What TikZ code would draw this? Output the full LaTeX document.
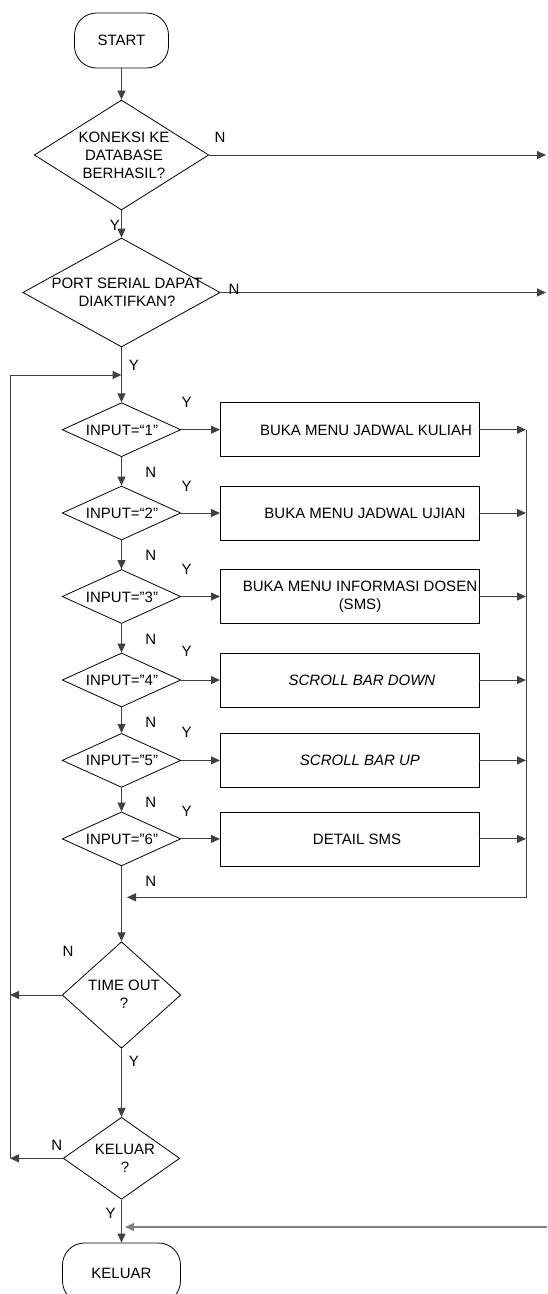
\documentclass[tikz,border=0pt]{standalone}
\usepackage{fontspec}
\setmainfont{Liberation Sans}
\usepackage{tikz}
\usetikzlibrary{arrows.meta,shapes.geometric}
\colorlet{linegray}{black!75}
\colorlet{backgray}{black!50}

\begin{document}
\begin{tikzpicture}[x=1pt,y=-1pt,>={Triangle[length=9pt,width=8pt]},
  txt/.style={font=\fontsize{15}{18}\selectfont,inner sep=0pt,align=center},
  term/.style={draw,rounded corners=22pt,line width=0.8pt},
  decision/.style={draw,diamond,inner sep=0pt,line width=0.8pt},
  choice/.style={decision,minimum width=118.6pt,minimum height=54pt},
  process/.style={draw,rectangle,minimum width=258.6pt,minimum height=54pt,line width=0.8pt},
  flow/.style={->,linegray,line width=1pt}]
\useasboundingbox (0,0) rectangle (547,1294);
% start and the two checks at the top
\node[term,txt,minimum width=94pt,minimum height=55pt] (start) at (121.5,40.5) {START};
\node[decision,minimum width=174.5pt,minimum height=110pt] (db) at (121.5,155) {};
\node[txt] (dbtxt) at (124,155) {KONEKSI KE\\DATABASE\\BERHASIL?};
\node[decision,minimum width=197.3pt,minimum height=109pt] (port) at (121.5,292.5) {};
\node[txt] (porttxt) at (127,292) {PORT SERIAL DAPAT\\DIAKTIFKAN?};
\coordinate (dbOut) at (546,155); \coordinate (portOut) at (546,292.5);
\draw[flow] (start) -- (db); \draw[flow] (db) -- (port);
\draw[flow] (db) -- (dbOut); \draw[flow] (port) -- (portOut);
\node[txt] (ndb) at (220,137) {N}; \node[txt] (ydb) at (115,225) {Y};
\node[txt] (nport) at (234,289) {N}; \node[txt] (yport) at (134,365) {Y};
% menu choices
\node[choice] (in1) at (121.5,429.7) {}; \node[txt] (in1txt) at (122,430) {INPUT=“1”};
\node[choice] (in2) at (121.5,513) {};   \node[txt] (in2txt) at (122,513) {INPUT=“2”};
\node[choice] (in3) at (121.5,596.5) {}; \node[txt] (in3txt) at (122,597) {INPUT="3"};
\node[choice] (in4) at (121.5,680) {};   \node[txt] (in4txt) at (122,680) {INPUT="4"};
\node[choice] (in5) at (121.5,760.4) {}; \node[txt] (in5txt) at (122,760.7) {INPUT="5"};
\node[choice] (in6) at (121.5,838.9) {}; \node[txt] (in6txt) at (122,839) {INPUT="6"};
\node[process] (p1) at (349.7,429.7) {}; \node[txt] (p1txt) at (366,430) {BUKA MENU JADWAL KULIAH};
\node[process] (p2) at (349.7,513) {};   \node[txt] (p2txt) at (365,513) {BUKA MENU JADWAL UJIAN};
\node[process] (p3) at (349.7,596.5) {}; \node[txt] (p3txt) at (360,596.5) {BUKA MENU INFORMASI DOSEN\\(SMS)};
\node[process] (p4) at (349.7,680) {};   \node[txt] (p4txt) at (362,680) {\itshape SCROLL BAR DOWN};
\node[process] (p5) at (349.7,760.4) {}; \node[txt] (p5txt) at (360,760.7) {\itshape SCROLL BAR UP};
\node[process] (p6) at (349.7,838.9) {}; \node[txt] (p6txt) at (357,839) {DETAIL SMS};
\node[txt] (y1) at (186.6,402.7) {Y}; \node[txt] (y2) at (186.6,486) {Y};
\node[txt] (y3) at (186.6,569) {Y};   \node[txt] (y4) at (186.6,651.7) {Y};
\node[txt] (y5) at (186.6,732) {Y};   \node[txt] (y6) at (186.6,811.7) {Y};
\node[txt] (n1) at (150.7,472.7) {N}; \node[txt] (n2) at (150.7,555) {N};
\node[txt] (n3) at (150.7,639) {N};   \node[txt] (n4) at (150.7,722.3) {N};
\node[txt] (n5) at (150.7,802.7) {N}; \node[txt] (n6) at (150.7,881) {N};
\draw[flow] (port) -- (in1); \draw[flow] (in1) -- (in2); \draw[flow] (in2) -- (in3);
\draw[flow] (in3) -- (in4); \draw[flow] (in4) -- (in5); \draw[flow] (in5) -- (in6);
\draw[flow] (in1) -- (p1); \draw[flow] (in2) -- (p2); \draw[flow] (in3) -- (p3);
\draw[flow] (in4) -- (p4); \draw[flow] (in5) -- (p5); \draw[flow] (in6) -- (p6);
% everything done comes back on the right
\coordinate (backR) at (526,897.3); \coordinate (backL) at (127,897.3);
\draw[flow] (p1.east -| backR) -- (backR) -- (backL);
\draw[flow] (p1) -- (p1 -| backR); \draw[flow] (p2) -- (p2 -| backR); \draw[flow] (p3) -- (p3 -| backR);
\draw[flow] (p4) -- (p4 -| backR); \draw[flow] (p5) -- (p5 -| backR); \draw[flow] (p6) -- (p6 -| backR);
% time out and exit
\node[decision,minimum width=118.6pt,minimum height=106.6pt] (tout) at (121.5,995) {};
\node[txt] (touttxt) at (124,994) {TIME OUT\\?};
\node[decision,minimum width=116.5pt,minimum height=82pt] (quit) at (121.5,1158.3) {};
\node[txt] (quittxt) at (125,1158.8) {KELUAR\\?};
\node[term,txt,minimum width=118pt,minimum height=60pt] (stop) at (121.5,1273) {KELUAR};
\draw[flow] (in6) -- (tout); \draw[flow] (tout) -- (quit); \draw[flow] (quit) -- (stop);
\node[txt] (ntout) at (68,951) {N};   \node[txt] (ytout) at (134,1061.7) {Y};
\node[txt] (nquit) at (56.7,1145) {N}; \node[txt] (yquit) at (110.7,1213.3) {Y};
\coordinate (loopB) at (10,1158.3); \coordinate (loopT) at (10,375); \coordinate (loopR) at (121.5,375);
\draw[flow] (loopB) -- (loopT) -- (loopR);
\draw[flow] (tout) -- (tout -| loopB); \draw[flow] (quit) -- (quit -| loopB);
\coordinate (endR) at (547,1227); \coordinate (endL) at (125,1227);
\draw[->,backgray,line width=1.5pt] (endR) -- (endL);
\end{tikzpicture}
\end{document}
